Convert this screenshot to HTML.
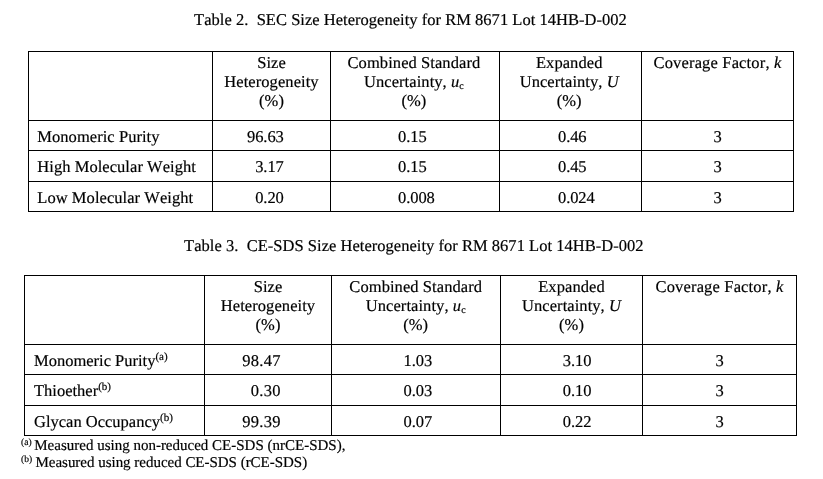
<!DOCTYPE html>
<html lang="en">
<head>
<meta charset="utf-8">
<title>SEC and CE-SDS Size Heterogeneity for RM 8671</title>
<style>
  html, body { margin: 0; padding: 0; background: #fff; }
  body {
    position: relative; width: 823px; height: 479px; overflow: hidden;
    font-family: "Liberation Serif", serif;
    font-size: 16.5px; line-height: 19.5px; color: #000; -webkit-text-stroke: 0.18px #000;
    text-rendering: geometricPrecision; will-change: transform; font-kerning: none; font-variant-ligatures: none;
  }
  .cap { position: absolute; margin: 0; white-space: pre; font-weight: normal; font-size: 16.5px; line-height: 19.5px; }
  #cap1 { left: 194.1px; top: 10.3px; letter-spacing: 0.025px; }
  #cap2 { left: 184.1px; top: 236.1px; letter-spacing: 0.027px; }

  table {
    position: absolute; border-collapse: separate; border-spacing: 0; table-layout: fixed;
    border-right: 1px solid #000; border-bottom: 1px solid #000;
  }
  #t1 { left: 28px; top: 51px; width: 766px; }
  #t2 { left: 24px; top: 275px; width: 773px; }
  th, td {
    box-sizing: border-box; border-left: 1px solid #000; border-top: 1px solid #000;
    padding: 0; margin: 0; font-weight: normal; vertical-align: top; white-space: nowrap;
    overflow: visible;
  }
  thead th { height: 69px; text-align: center; padding-top: 0.1px; letter-spacing: 0.07px; }
  thead th .a { position: relative; top: 1px; }
  thead th.cov { letter-spacing: 0.16px; }
  #t1 thead th:nth-child(3) { padding-right: 2.2px; }
  #t1 thead th:nth-child(4) { padding-right: 2.6px; }
  #t2 thead th:nth-child(3) { padding-right: 0.6px; }
  tbody th { letter-spacing: 0.05px; }
  #t1 tbody td { letter-spacing: -0.1px; }
  #t2 tbody th { letter-spacing: 0; }
  tbody td, tbody th { padding-top: 5.7px; }
  tbody tr.r30 > * { height: 30px; }
  tbody tr.r31 > * { height: 31px; }
  tbody th { text-align: left; }
  td.c { text-align: center; }
  td.r { text-align: right; }
  td.l { text-align: left; }

  #t1 tbody th { padding-left: 8.3px; }
  #t1 td.r { padding-right: 46.3px; }
  #t1 td.l3 { padding-left: 67.1px; }
  #t1 td.l4 { padding-left: 58.0px; }

  #t2 tbody th { padding-left: 9.0px; }
  #t2 td.r { padding-right: 50.2px; letter-spacing: 0.28px; }
  #t2 td.l3 { padding-left: 71.4px; }
  #t2 td.l4 { padding-left: 61.7px; }

  i { font-style: italic; }
  sub { font-size: 10px; vertical-align: baseline; position: relative; top: 2.4px; line-height: 0; }
  sup { font-size: 11px; vertical-align: baseline; position: relative; top: -5.6px; line-height: 0; margin-left: 0; }

  .fn { position: absolute; margin: 0; white-space: pre; font-size: 15px; line-height: 17px; }
  .fn sup { font-size: 9.5px; top: -5.2px; margin-left: 0; }
  #fn1 { left: 21.1px; top: 438.2px; }
  #fn2 { left: 21.1px; top: 455.3px; }
  #fn1 span { margin-left: 2.6px; }
  #fn2 span { margin-left: 3.3px; letter-spacing: -0.02px; }
</style>
</head>
<body>

<h2 class="cap" id="cap1">Table 2.  SEC Size Heterogeneity for RM 8671 Lot 14HB-D-002</h2>

<table id="t1">
  <colgroup><col style="width:184px"><col style="width:118px"><col style="width:169px"><col style="width:142px"><col style="width:152px"></colgroup>
  <thead>
    <tr>
      <th></th>
      <th><span class="a">Size</span><br>Heterogeneity<br>(%)</th>
      <th><span class="a">Combined Standard</span><br>Uncertainty, <i>u</i><sub>c</sub><br>(%)</th>
      <th><span class="a">Expanded</span><br>Uncertainty, <i>U</i><br>(%)</th>
      <th class="cov"><span class="a">Coverage Factor, <i>k</i></span></th>
    </tr>
  </thead>
  <tbody>
    <tr class="r30"><th>Monomeric Purity</th><td class="r">96.63</td><td class="l l3">0.15</td><td class="l l4">0.46</td><td class="c">3</td></tr>
    <tr class="r31"><th>High Molecular Weight</th><td class="r">3.17</td><td class="l l3">0.15</td><td class="l l4">0.45</td><td class="c">3</td></tr>
    <tr class="r30"><th>Low Molecular Weight</th><td class="r">0.20</td><td class="l l3">0.008</td><td class="l l4">0.024</td><td class="c">3</td></tr>
  </tbody>
</table>

<h2 class="cap" id="cap2">Table 3.  CE-SDS Size Heterogeneity for RM 8671 Lot 14HB-D-002</h2>

<table id="t2">
  <colgroup><col style="width:180px"><col style="width:127px"><col style="width:169px"><col style="width:142px"><col style="width:154px"></colgroup>
  <thead>
    <tr>
      <th></th>
      <th><span class="a">Size</span><br>Heterogeneity<br>(%)</th>
      <th><span class="a">Combined Standard</span><br>Uncertainty, <i>u</i><sub>c</sub><br>(%)</th>
      <th><span class="a">Expanded</span><br>Uncertainty, <i>U</i><br>(%)</th>
      <th class="cov"><span class="a">Coverage Factor, <i>k</i></span></th>
    </tr>
  </thead>
  <tbody>
    <tr class="r30"><th>Monomeric Purity<sup>(a)</sup></th><td class="r">98.47</td><td class="l l3">1.03</td><td class="l l4">3.10</td><td class="c">3</td></tr>
    <tr class="r31"><th>Thioether<sup>(b)</sup></th><td class="r">0.30</td><td class="l l3">0.03</td><td class="l l4">0.10</td><td class="c">3</td></tr>
    <tr class="r30"><th>Glycan Occupancy<sup>(b)</sup></th><td class="r">99.39</td><td class="l l3">0.07</td><td class="l l4">0.22</td><td class="c">3</td></tr>
  </tbody>
</table>

<p class="fn" id="fn1"><sup>(a)</sup><span>Measured using non-reduced CE-SDS (nrCE-SDS),</span></p>
<p class="fn" id="fn2"><sup>(b)</sup><span>Measured using reduced CE-SDS (rCE-SDS)</span></p>

</body>
</html>
